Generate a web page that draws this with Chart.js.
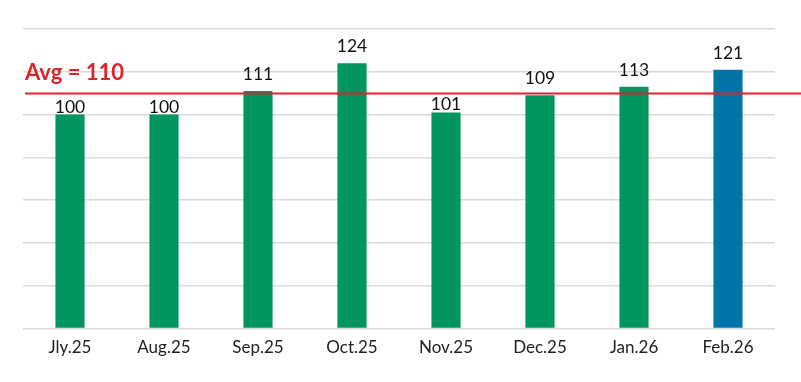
<!DOCTYPE html>
<html><head><meta charset="utf-8">
<script src="https://cdn.jsdelivr.net/npm/chart.js@4/dist/chart.umd.min.js"></script>
<style>html,body{margin:0;padding:0;background:#fff}#wrap{width:801px;height:382px}</style>
</head><body><div id="wrap"><canvas id="c" width="801" height="382"></canvas></div>
<script>
const categories = ["Jly.25","Aug.25","Sep.25","Oct.25","Nov.25","Dec.25","Jan.26","Feb.26"];
const values = [100,100,111,124,101,109,113,121];
const yTicks = [0,20,40,60,80,100,120,140];

const avg = values.reduce((a,b)=>a+b,0)/values.length;
const GREEN = "#01955f", BLUE = "#0074a7";
const colors = values.map((v,i)=> i===values.length-1 ? BLUE : GREEN);

const overlay = {
  id:'overlay',
  afterDatasetsDraw(chart){
    const ctx = chart.ctx, y = chart.scales.y, area = chart.chartArea;
    const meta = chart.getDatasetMeta(0);
    const ay = y.getPixelForValue(avg);
    ctx.save();
    ctx.strokeStyle = "#e0202e"; ctx.lineWidth = 2;
    ctx.beginPath(); ctx.moveTo(area.left+2, ay); ctx.lineTo(chart.width, ay); ctx.stroke();
    ctx.fillStyle = "#d9262e";
    ctx.font = "bold 22px Lato";
    ctx.textAlign = "left"; ctx.textBaseline = "alphabetic";
    ctx.fillText("Avg = " + Math.round(avg), area.left+2, ay-13);
    ctx.fillStyle = "#111";
    ctx.font = "17.5px Lato";
    ctx.textAlign = "center";
    meta.data.forEach((bar,i)=>{
      const off = values[i] < avg-5 ? 2 : 11;
      ctx.fillText(String(values[i]), bar.x, bar.y - off);
    });
    ctx.restore();
  }
};

new Chart(document.getElementById('c'), {
  type:'bar',
  data:{labels:categories, datasets:[{data:values, backgroundColor:colors, borderWidth:0, barPercentage:0.31, categoryPercentage:1}]},
  options:{
    responsive:false, animation:false, devicePixelRatio:1,
    layout:{padding:{left:23,right:26,top:29,bottom:15}},
    plugins:{legend:{display:false}, tooltip:{enabled:false}},
    scales:{
      x:{grid:{display:false, drawTicks:false}, border:{display:false},
         ticks:{padding:9, color:"#222", font:{family:"Lato", size:17}}},
      y:{min:0, max:140, afterBuildTicks(s){ s.ticks = yTicks.map(v=>({value:v})); },
         grid:{color:"#d9d9d9", lineWidth:1.5, drawTicks:false}, border:{display:false},
         ticks:{display:false}}
    }
  },
  plugins:[overlay]
});
</script></body></html>
